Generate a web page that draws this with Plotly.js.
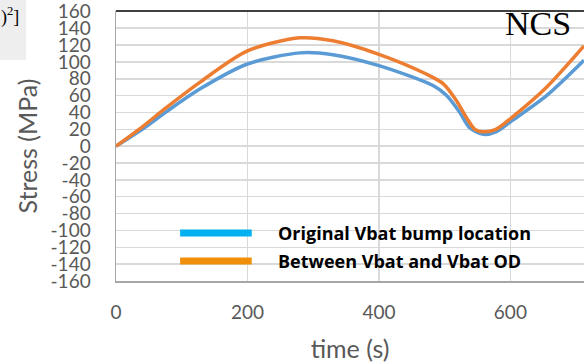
<!DOCTYPE html>
<html>
<head>
<meta charset="utf-8">
<script src="https://cdn.plot.ly/plotly-3.0.1.min.js"></script>
<style>html,body{margin:0;padding:0;background:#fff;}#chart{width:584px;height:364px;}</style>
</head>
<body>
<div id="chart"></div>
<script>
const seriesNames = ['Original Vbat bump location', 'Between Vbat and Vbat OD'];
const timeBlue = [0, 40, 77, 128, 200, 280, 330, 400, 483, 503, 523, 538, 559, 578, 602, 655, 712];
const stressBlue = [0, 20, 41, 68, 97.5, 110.7, 108.5, 95.5, 71.6, 60, 40, 22, 14, 17, 30, 60, 102];
const timeOrange = [0, 40, 77, 128, 200, 280, 330, 400, 472, 498, 518, 533, 546, 559, 578, 602, 655, 712];
const stressOrange = [0, 23, 46, 76, 113, 128.6, 125, 109, 85.6, 74, 54, 34, 20, 17, 20, 34, 70, 119];
const xTicks = [0, 200, 400, 600];
const yTicks = [-160, -140, -120, -100, -80, -60, -40, -20, 0, 20, 40, 60, 80, 100, 120, 140, 160];
const lineColors = ['#5b9bd5', '#ed7d31'];
const legendColors = ['#00b0f0', '#f0900a'];

const traces = [
  {x: timeBlue, y: stressBlue, mode: 'lines', name: seriesNames[0], showlegend: false,
   line: {color: lineColors[0], width: 3.5, shape: 'spline', smoothing: 0.8}},
  {x: timeOrange, y: stressOrange, mode: 'lines', name: seriesNames[1], showlegend: false,
   line: {color: lineColors[1], width: 3.5, shape: 'spline', smoothing: 0.8}}
];

const tickFont = {family: 'Lato, sans-serif', size: 19, color: '#595959'};
const titleFont = {family: 'Lato, sans-serif', size: 25, color: '#595959'};
const shapes = [
  {type: 'line', xref: 'paper', yref: 'paper', x0: 0, x1: 1, y0: 1, y1: 1, line: {color: '#000', width: 1.5}},
  {type: 'rect', xref: 'paper', yref: 'paper', x0: -0.248, x1: -0.192, y0: 1.041, y1: 0.8185, fillcolor: '#eeeeee', line: {width: 0}, layer: 'below'}
];
const annotations = [
  {xref: 'paper', yref: 'paper', x: 0.9765, y: 0.955, xanchor: 'right', yanchor: 'middle', text: 'NCS', showarrow: false,
   font: {family: 'Liberation Serif, serif', size: 34, color: '#000'}},
  {xref: 'paper', yref: 'paper', x: -0.25, y: 1.035, xanchor: 'left', yanchor: 'top', text: ')<sup>2</sup>]', showarrow: false,
   font: {family: 'Liberation Serif, serif', size: 18, color: '#000'}}
];
const legendY = [0.178, 0.074];
seriesNames.forEach((nm, i) => {
  shapes.push({type: 'line', xref: 'paper', yref: 'paper', x0: 0.137, x1: 0.29, y0: legendY[i], y1: legendY[i],
    line: {color: legendColors[i], width: 7}});
  annotations.push({xref: 'paper', yref: 'paper', x: 0.342, y: legendY[i], xanchor: 'left', yanchor: 'middle', text: '<b>' + nm + '</b>',
    showarrow: false, font: {family: 'Open Sans, sans-serif', size: 18, color: '#000'}});
});

const layout = {
  width: 584, height: 364,
  margin: {l: 116, r: 0, t: 11, b: 83},
  paper_bgcolor: '#fff', plot_bgcolor: '#fff',
  showlegend: false,
  xaxis: {range: [0, 712], tickvals: xTicks, ticktext: xTicks.map(String), showgrid: true, gridcolor: '#d9d9d9', gridwidth: 1.5,
    zeroline: false, showline: true, linecolor: '#a6a6a6', linewidth: 1.5, ticks: '', tickfont: tickFont, ticklabelstandoff: 14,
    title: {text: 'time (s)', font: titleFont, standoff: 18}},
  yaxis: {range: [-160, 160.4], tickvals: yTicks, ticktext: yTicks.map(String), showgrid: true, gridcolor: '#d9d9d9', gridwidth: 1.5,
    zeroline: false, showline: true, linecolor: '#a6a6a6', linewidth: 1.5, ticks: '', tickfont: tickFont, ticklabelstandoff: 20,
    ticklabeloverflow: 'allow', title: {text: 'Stress (MPa)', font: titleFont, standoff: 6}},
  shapes: shapes,
  annotations: annotations
};

Plotly.newPlot('chart', traces, layout, {displayModeBar: false, staticPlot: true});
</script>
</body>
</html>
